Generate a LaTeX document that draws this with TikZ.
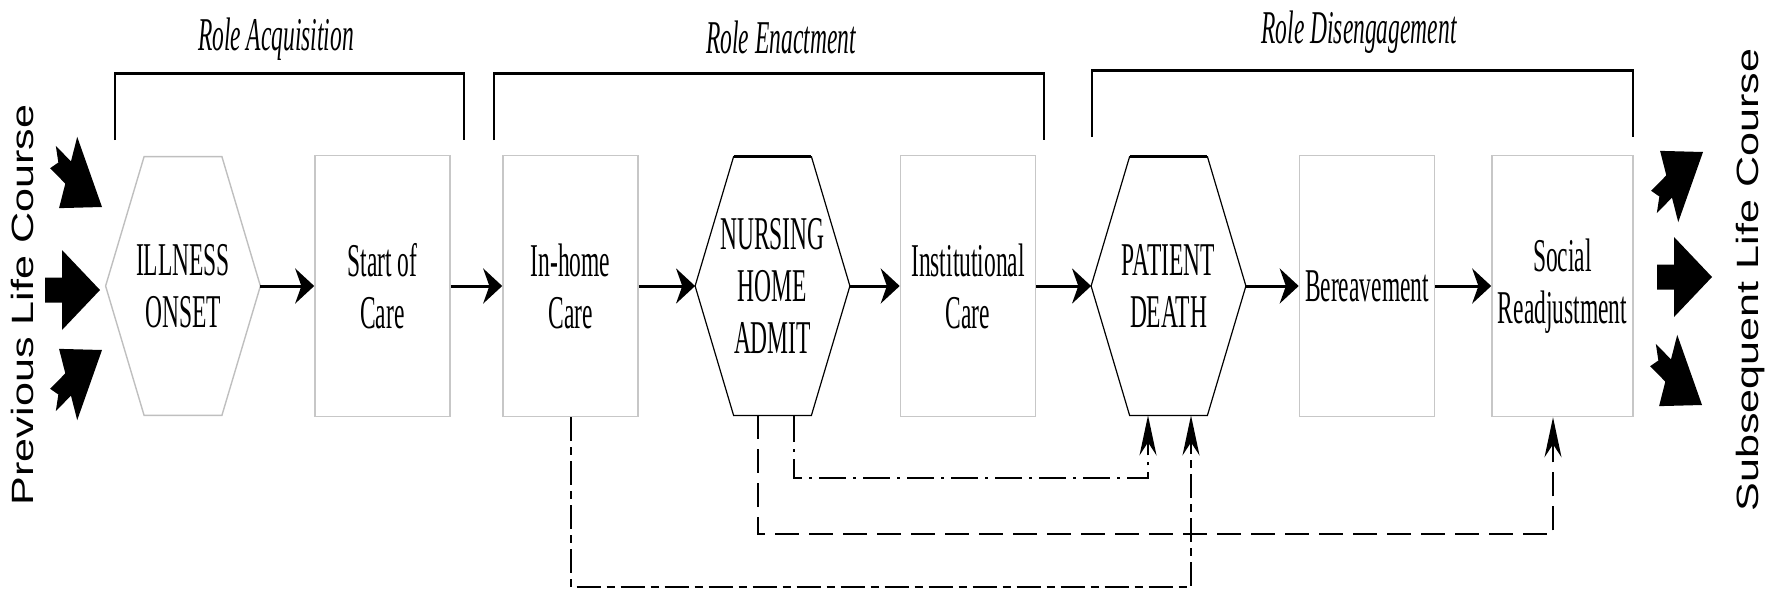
\documentclass[tikz,border=0pt]{standalone}
\usepackage{fontspec}
\setmainfont{Liberation Serif}
\newfontfamily\narrowserif[FakeStretch=0.5]{Liberation Serif}
\newfontfamily\widesans[FakeStretch=1.4]{Liberation Sans}
\usetikzlibrary{arrows.meta,calc}
\newcommand\stagefont{\narrowserif\fontsize{23.5pt}{26pt}\selectfont}
\def\hexframe[#1](#2){\draw[#1] (#2.west) -- ($(#2.north west)+(38.5,0)$) -- ($(#2.north east)+(-38.5,0)$) -- (#2.east) -- ($(#2.south east)+(-38.5,0)$) -- ($(#2.south west)+(38.5,0)$) -- cycle;}
\def\lifearrow[#1](#2:#3){\fill[shift={(#2)},xscale=0.5,#1] (0,0) -- (-76,40) -- (-76,12.5) -- (-110,12.5) -- (-#3,0) -- (-110,-12.5) -- (-76,-12.5) -- (-76,-40) -- cycle;}
\def\phasebracket(#1:#2:#3:#4){\draw[line width=0.7pt] (#1,#4) -- (#1,#3) -- (#2,#3) -- (#2,#4); \draw[line width=1.5pt] (#1,#3) -- (#2,#3);}
\tikzset{
  stage/.style={draw=black!22, line width=0.8pt, minimum width=67.5pt, minimum height=130.5pt, inner sep=0pt, align=center, font=\stagefont},
  hexstage/.style={minimum width=77pt, minimum height=129pt, inner sep=0pt, align=center, font=\stagefont},
  phase/.style={anchor=base, font=\stagefont\itshape},
  lifecourse/.style={rotate=90, font=\widesans\fontsize{15.4pt}{18pt}\selectfont},
  flow/.style={line width=1.5pt, -{Stealth[length=9.5pt,width=17.5pt]}},
  homelink/.style={line width=1pt, dash pattern=on 12pt off 3pt on 4pt off 3pt, -{Stealth[length=20pt,width=8.5pt]}},
  sociallink/.style={line width=1pt, dash pattern=on 12pt off 5pt, -{Stealth[length=20pt,width=8.5pt]}},
  deathlink/.style={line width=1pt, dash pattern=on 13.5pt off 3.5pt on 1.5pt off 3.5pt, -{Stealth[length=20pt,width=8.5pt]}}
}

\begin{document}
\begin{tikzpicture}[x=0.5pt, y=-0.5pt]
		%%%%% START %%%%%
		\useasboundingbox (0,0) rectangle (1771,594);
		
		\node[lifecourse] (prevlife) at (22,305) {Previous Life Course};
		\node[lifecourse] (sublife) at (1751,280) {Subsequent Life Course};
		
		\lifearrow[rotate=-27](102,207:98)
		\lifearrow[](100,290:110)
		\lifearrow[rotate=27](102,350:98)
		
		\lifearrow[rotate=27](1703,152:98)
		\lifearrow[](1712,277:110)
		\lifearrow[rotate=-27](1702,405:98)
		
		\node[phase] (acq) at (276,50) {Role Acquisition};
		\node[phase] (enact) at (781,53) {Role Enactment};
		\node[phase] (diseng) at (1359,43) {Role Disengagement};
		
		\phasebracket(115:464:73:140)
		\phasebracket(494:1044:73:140)
		\phasebracket(1092:1633:70:137)
		
		\node[hexstage] (illness) at (183,286) {ILLNESS\\ONSET};
		\hexframe[draw=black!25, line width=0.7pt](illness)
		\node[stage] (start) at (382.5,286) {Start of\\Care};
		\node[stage] (inhome) at (570.5,286) {In-home\\Care};
		\node[hexstage] (nursing) at (772.5,286) {NURSING\\HOME\\ADMIT};
		\hexframe[line width=0.6pt](nursing)
		\draw[line width=1.5pt] ($(nursing.north west)+(38.5,0)$) -- ($(nursing.north east)+(-38.5,0)$);
		\node[stage] (institutional) at (968,286) {Institutional\\Care};
		\node[hexstage] (death) at (1168.5,286) {PATIENT\\DEATH};
		\hexframe[line width=0.6pt](death)
		\draw[line width=1.5pt] ($(death.north west)+(38.5,0)$) -- ($(death.north east)+(-38.5,0)$);
		\node[stage] (bereavement) at (1367,286) {Bereavement};
		\node[stage, minimum width=70.5pt] (social) at (1562.5,286) {Social\\Readjustment};
		
		\draw[flow] (illness.east) -- (start.west);
		\draw[flow] (start.east) -- (inhome.west);
		\draw[flow] (inhome.east) -- (nursing.west);
		\draw[flow] (nursing.east) -- (institutional.west);
		\draw[flow] (institutional.east) -- (death.west);
		\draw[flow] (death.east) -- (bereavement.west);
		\draw[flow] (bereavement.east) -- (social.west);
		
		\draw[deathlink] ($(nursing.south)+(21.5,0)$) -- ++(0,63) -| ($(death.south)+(-20.5,0)$);
		\draw[sociallink] ($(nursing.south)+(-14.5,0)$) -- ++(0,119) -| ($(social.south)+(-9.5,0)$);
		\draw[homelink] (inhome.south) -- ++(0,170) -| ($(death.south)+(22.5,0)$);
		
		%%%%% END %%%%%
\end{tikzpicture}
\end{document}
